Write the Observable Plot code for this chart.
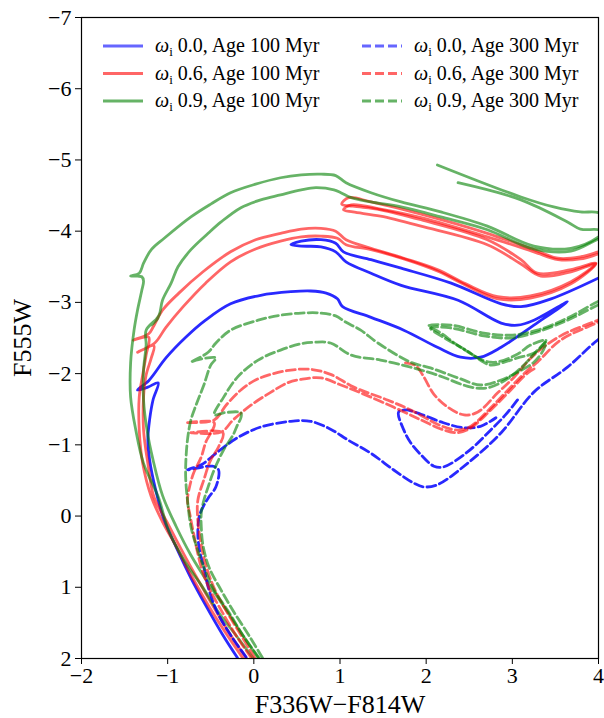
<!DOCTYPE html>
<html><head><meta charset="utf-8">
<script src="https://cdn.jsdelivr.net/npm/d3@7"></script>
<script src="https://cdn.jsdelivr.net/npm/@observablehq/plot@0.6"></script>
<style>
body{margin:0;background:#fff;}
#chart{width:604px;height:718px;}
</style>
</head><body><div id="chart"></div>
<script>
// ---------- data: each series is a list of polylines [F336W-F814W, F555W] ----------
const blue100 = [[
 [-0.19,1.99],[-0.36,1.67],[-0.56,1.25],[-0.73,0.87],[-0.90,0.44],[-1.04,0.06],[-1.14,-0.37],[-1.21,-0.79],
 [-1.23,-1.07],[-1.21,-1.35],[-1.17,-1.63],[-1.11,-1.87],[-1.23,-1.81],[-1.35,-1.77],[-1.22,-1.90],
 [-1.02,-2.22],[-0.79,-2.51],[-0.56,-2.75],[-0.27,-2.98],[0.08,-3.10],[0.43,-3.15],[0.66,-3.16],[0.84,-3.13],
 [0.97,-3.05],[1.03,-2.94],[1.36,-2.79],[1.74,-2.61],[2.13,-2.37],[2.40,-2.23],[2.63,-2.23],[2.87,-2.37],
 [3.25,-2.68],[3.64,-3.01],
 [3.25,-2.75],[3.06,-2.68],[2.87,-2.71],[2.37,-3.03],[1.71,-3.24],[1.36,-3.41],[1.07,-3.57],[0.95,-3.71],
 [0.78,-3.78],[0.55,-3.79],[0.43,-3.81],
 [0.55,-3.86],[0.78,-3.88],[0.95,-3.83],[1.04,-3.71],[1.36,-3.60],[1.71,-3.48],[2.29,-3.27],[2.87,-2.98],
 [3.10,-2.94],[3.45,-3.05],[4.03,-3.36]
]];
const red100 = [[
 [-0.13,1.99],[-0.31,1.67],[-0.51,1.29],[-0.71,0.87],[-0.89,0.45],[-1.06,0.08],[-1.19,-0.27],[-1.29,-0.74],
 [-1.33,-1.21],[-1.33,-1.67],[-1.29,-1.98],[-1.25,-2.26],[-1.22,-2.51],[-1.40,-2.47],[-1.22,-2.56],
 [-1.17,-2.65],[-1.06,-2.89],[-0.87,-3.13],[-0.59,-3.43],[-0.27,-3.71],[0.02,-3.88],[0.31,-3.97],[0.55,-4.03],
 [0.78,-4.04],[0.95,-4.00],[1.07,-3.88],[1.36,-3.76],[1.74,-3.62],[2.13,-3.46],[2.46,-3.26],[2.83,-3.08],
 [3.21,-3.09],[3.68,-3.29],[3.97,-3.55],
 [3.68,-3.46],[3.29,-3.41],[3.10,-3.60],[2.71,-3.88],[1.94,-4.16],[1.47,-4.30],[1.15,-4.35],[1.02,-4.38],
 [1.10,-4.47],[1.36,-4.41],[1.94,-4.24],[2.71,-3.97],[3.25,-3.74],[3.53,-3.62],[3.79,-3.64],[4.00,-3.71],[4.26,-3.81]
],[
 [-0.09,1.99],[-0.27,1.67],[-0.46,1.29],[-0.66,0.87],[-0.85,0.45],[-1.01,0.08],[-1.16,-0.27],[-1.23,-0.74],
 [-1.28,-1.21],[-1.28,-1.67],[-1.25,-1.98],[-1.19,-2.22],[-1.16,-2.39],[-1.35,-2.30],[-1.15,-2.43],
 [-1.02,-2.65],[-0.82,-2.94],[-0.56,-3.27],[-0.27,-3.57],[0.02,-3.75],[0.31,-3.86],[0.55,-3.92],[0.78,-3.93],
 [0.97,-3.90],[1.07,-3.81],[1.36,-3.74],[1.74,-3.61],[2.13,-3.44],[2.46,-3.24],[2.83,-3.05],[3.21,-3.06],
 [3.68,-3.26],[3.97,-3.54],
 [3.68,-3.43],[3.33,-3.37],[3.10,-3.54],[2.71,-3.81],[1.94,-4.07],[1.47,-4.21],[1.15,-4.27],[1.04,-4.30],
 [1.13,-4.37],[1.47,-4.31],[1.94,-4.19],[2.71,-3.92],[3.25,-3.71],[3.53,-3.60],[3.79,-3.61],[4.00,-3.68],[4.26,-3.78]
]];
const green100 = [[
 [-0.01,1.99],[-0.21,1.67],[-0.41,1.35],[-0.61,0.97],[-0.81,0.62],[-0.99,0.20],[-1.11,-0.27],[-1.28,-0.74],
 [-1.37,-1.21],[-1.43,-1.67],[-1.43,-2.15],[-1.39,-2.61],[-1.35,-2.89],[-1.30,-3.17],[-1.28,-3.30],
 [-1.30,-3.36],[-1.43,-3.37],[-1.33,-3.41],[-1.28,-3.55],[-1.19,-3.74],[-1.04,-3.90],[-0.73,-4.20],
 [-0.50,-4.38],[-0.27,-4.54],[0.02,-4.66],[0.31,-4.75],[0.55,-4.79],[0.78,-4.80],[0.95,-4.78],[1.07,-4.68],
 [1.36,-4.54],[1.71,-4.41],[2.17,-4.27],[2.71,-4.07],[3.25,-3.79],[3.68,-3.76],[4.00,-3.92],[4.16,-4.13],
 [4.00,-4.26],[3.79,-4.27],[3.48,-4.34],[3.10,-4.48],[2.13,-4.93]
],[
 [0.05,1.99],[-0.13,1.67],[-0.32,1.32],[-0.53,0.94],[-0.73,0.55],[-0.90,0.15],[-1.06,-0.29],[-1.17,-0.79],
 [-1.24,-1.21],[-1.28,-1.63],[-1.28,-2.05],[-1.25,-2.40],[-1.25,-2.61],[-1.11,-2.78],[-1.19,-2.68],
 [-1.10,-2.82],[-1.06,-3.03],[-0.96,-3.27],[-0.88,-3.50],[-0.73,-3.74],[-0.53,-3.97],[-0.38,-4.13],
 [-0.15,-4.33],[0.08,-4.44],[0.31,-4.51],[0.55,-4.58],[0.72,-4.61],[0.93,-4.58],[1.01,-4.54],[1.13,-4.47],
 [1.36,-4.41],[1.71,-4.34],[2.17,-4.20],[2.71,-4.02],[3.25,-3.75],[3.68,-3.72],[4.00,-3.89],[4.16,-3.96],
 [4.00,-4.02],[3.79,-4.03],[3.64,-4.13],[3.10,-4.44],[2.37,-4.68]
]];
const blue300 = [[
 [-0.09,1.98],[-0.27,1.67],[-0.42,1.36],[-0.52,1.04],[-0.58,0.72],[-0.63,0.48],[-0.65,0.24],[-0.63,-0.01],
 [-0.58,-0.15],[-0.52,-0.27],[-0.44,-0.41],[-0.41,-0.65],[-0.48,-0.70],[-0.77,-0.65],[-0.61,-0.72],
 [-0.42,-0.90],[-0.19,-1.10],[0.08,-1.25],[0.43,-1.33],[0.66,-1.33],[0.89,-1.22],[1.09,-1.07],[1.36,-0.88],
 [1.62,-0.65],[1.86,-0.46],[1.97,-0.41],[2.13,-0.44],[2.48,-0.74],[2.87,-1.17],[3.25,-1.74],[3.64,-2.09],
 [3.99,-2.47],[4.26,-2.68]
],[
 [3.06,-1.63],[2.92,-1.42],[2.75,-1.21],[2.48,-0.90],[2.20,-0.69],[2.09,-0.70],[1.94,-0.86],[1.82,-1.03],
 [1.74,-1.21],[1.68,-1.46],[1.76,-1.49],[1.94,-1.43],[2.20,-1.31],[2.44,-1.24],[2.63,-1.26],[2.81,-1.38]
]];
const red300 = [[
 [-0.03,1.99],[-0.21,1.67],[-0.38,1.32],[-0.52,1.01],[-0.61,0.72],[-0.70,0.24],[-0.74,-0.01],[-0.77,-0.22],
 [-0.74,-0.44],[-0.70,-0.60],[-0.61,-0.83],[-0.56,-1.03],[-0.46,-1.31],[-0.79,-1.31],[-0.46,-1.35],
 [-0.32,-1.56],[-0.15,-1.77],[0.02,-1.91],[0.20,-1.99],[0.43,-2.05],[0.66,-2.06],[0.89,-1.99],[1.16,-1.81],
 [1.55,-1.63],[1.82,-1.49],[2.13,-1.29],[2.29,-1.22],[2.40,-1.21],[2.52,-1.26],[2.75,-1.52],[2.95,-1.77],
 [3.18,-2.05],[3.29,-2.16],[3.56,-2.47],[3.99,-2.72],[4.26,-2.89]
],[
 [0.01,1.99],[-0.15,1.67],[-0.31,1.35],[-0.45,1.04],[-0.55,0.72],[-0.61,0.41],[-0.65,0.06],[-0.65,-0.22],
 [-0.58,-0.51],[-0.50,-0.79],[-0.41,-0.97],[-0.36,-1.17],[-0.73,-1.17],[-0.38,-1.18],[-0.24,-1.35],
 [-0.03,-1.56],[0.20,-1.74],[0.39,-1.87],[0.55,-1.92],[0.78,-1.94],[1.01,-1.84],[1.24,-1.73],[1.62,-1.53],
 [1.94,-1.35],[2.20,-1.21],[2.37,-1.17],[2.52,-1.24],[2.75,-1.49],[2.95,-1.73],[3.18,-2.01],[3.29,-2.09]
],[
 [1.76,-2.15],[1.88,-2.11],[1.96,-1.98],[2.09,-1.71],[2.25,-1.53],[2.44,-1.42],[2.60,-1.46],[2.83,-1.73],
 [3.02,-1.95],[3.25,-2.26],[3.56,-2.53],[3.99,-2.75],[4.26,-2.91]
]];
const green300 = [[
 [0.06,1.99],[-0.13,1.67],[-0.29,1.35],[-0.46,1.04],[-0.58,0.72],[-0.67,0.41],[-0.73,0.15],[-0.77,-0.22],
 [-0.79,-0.51],[-0.79,-0.74],[-0.77,-1.07],[-0.73,-1.35],[-0.67,-1.56],[-0.58,-1.84],[-0.50,-2.12],
 [-0.44,-2.22],[-0.67,-2.19],[-0.73,-2.16],[-0.53,-2.30],[-0.44,-2.43],[-0.27,-2.61],[0.05,-2.75],
 [0.31,-2.82],[0.55,-2.85],[0.78,-2.85],[0.95,-2.81],[1.07,-2.72],[1.24,-2.61],[1.44,-2.43],[1.82,-2.16],
 [2.05,-2.08],[2.37,-1.94],[2.63,-1.84],[2.87,-1.91],[3.06,-2.02],[3.25,-2.16],[3.36,-2.33],[3.39,-2.44],
 [3.27,-2.30],[3.06,-2.22],[2.75,-2.12],[2.67,-2.16],[2.46,-2.33],[2.20,-2.51],[2.05,-2.64],
 [2.29,-2.64],[2.67,-2.53],[2.98,-2.50],[3.25,-2.57],[3.64,-2.75],[3.99,-2.96],[4.26,-3.10]
],[
 [0.10,1.99],[-0.06,1.67],[-0.23,1.35],[-0.38,1.04],[-0.52,0.72],[-0.59,0.41],[-0.61,0.15],[-0.61,-0.04],
 [-0.58,-0.22],[-0.53,-0.41],[-0.46,-0.65],[-0.35,-0.93],[-0.24,-1.14],[-0.19,-1.28],[-0.15,-1.38],
 [-0.15,-1.45],[-0.35,-1.45],[-0.46,-1.42],[-0.35,-1.67],[-0.19,-1.95],[0.05,-2.19],[0.31,-2.33],
 [0.55,-2.42],[0.70,-2.44],[0.89,-2.43],[1.13,-2.26],[1.47,-2.19],[1.82,-2.09],[2.13,-1.98],[2.52,-1.81],
 [2.71,-1.80],[2.92,-1.91],[3.10,-2.08],[3.27,-2.30],[3.39,-2.47],[3.21,-2.40],[3.04,-2.26],[2.75,-2.16],
 [2.40,-2.37],[2.17,-2.57],[2.03,-2.67],[2.29,-2.68],[2.67,-2.57],[2.98,-2.54],[3.29,-2.61],[3.64,-2.78],
 [3.99,-3.01],[4.26,-3.15]
]];

const xTicks = [-2, -1, 0, 1, 2, 3, 4];
const yTicks = [-7, -6, -5, -4, -3, -2, -1, 0, 1, 2];
const xLabel = "F336W\u2212F814W";
const yLabel = "F555W";
const rotations = ["0.0", "0.6", "0.9"];
const ages = ["100", "300"];
const colors = ["#0000ff", "#ff0000", "#008000"];

// ---------- build ----------
const series = [
  {key: "b100", data: blue100, color: colors[0], op: 0.84, dash: null},
  {key: "r100", data: red100, color: colors[1], op: 0.6, dash: null},
  {key: "g100", data: green100, color: colors[2], op: 0.6, dash: null},
  {key: "b300", data: blue300, color: colors[0], op: 0.84, dash: "9,4"},
  {key: "r300", data: red300, color: colors[1], op: 0.6, dash: "9,4"},
  {key: "g300", data: green300, color: colors[2], op: 0.6, dash: "9,4"}
];
const rows = series.flatMap(s => s.data.flatMap((seg, i) => seg.map(([x, y]) => ({key: s.key, seg: s.key + i, x, y}))));

const font = "'Liberation Serif', 'DejaVu Serif', serif";
const plot = Plot.plot({
  width: 604, height: 718,
  marginLeft: 81, marginRight: 6, marginTop: 17, marginBottom: 60,
  style: {fontFamily: font, background: "#fff", color: "#000"},
  x: {domain: [-2, 4]},
  y: {domain: [2, -7]},
  marks: [
    ...series.map(s => Plot.line(rows.filter(r => r.key === s.key), {
      x: "x", y: "y", z: "seg", stroke: s.color, strokeOpacity: s.op, strokeWidth: 2.8,
      strokeDasharray: s.dash, strokeLinejoin: "round", curve: "catmull-rom", clip: true
    })),
    Plot.frame({stroke: "#000", strokeWidth: 1.2}),
    Plot.axisX({ticks: xTicks, tickSize: 6, tickPadding: 3, fontSize: 22, label: null, tickFormat: d3.format("d")}),
    Plot.axisY({ticks: yTicks, tickSize: 6, tickPadding: 4, fontSize: 22, label: null, tickFormat: d3.format("d")}),
    Plot.text([xLabel], {frameAnchor: "bottom", dy: 46, fontSize: 26, textAnchor: "middle", lineAnchor: "middle"}),
    Plot.text([yLabel], {frameAnchor: "left", dx: -59, rotate: -90, fontSize: 26, textAnchor: "middle", lineAnchor: "middle"})
  ]
});
document.getElementById("chart").appendChild(plot);

// ---------- legend (inside the frame, upper part) ----------
const svg = d3.select(plot);
const leg = svg.append("g").attr("font-family", font).attr("font-size", 20).attr("text-anchor", "start");
ages.forEach((age, c) => {
  rotations.forEach((rot, r) => {
    const x0 = c === 0 ? 103 : 362, y0 = 46 + r * 27.5;
    leg.append("line").attr("x1", x0).attr("x2", x0 + 40).attr("y1", y0).attr("y2", y0)
      .attr("stroke", colors[r]).attr("stroke-opacity", 0.6).attr("stroke-width", 2.8)
      .attr("stroke-dasharray", c === 1 ? "9,4" : null);
    const t = leg.append("text").attr("x", x0 + 52).attr("y", y0 + 6).attr("text-anchor", "start");
    t.append("tspan").attr("font-style", "italic").text("\u03c9");
    t.append("tspan").attr("font-size", 13).attr("dy", 4).text("i");
    t.append("tspan").attr("dy", -4).text(` ${rot}, Age ${age} Myr`);
  });
});
</script>
</body></html>
